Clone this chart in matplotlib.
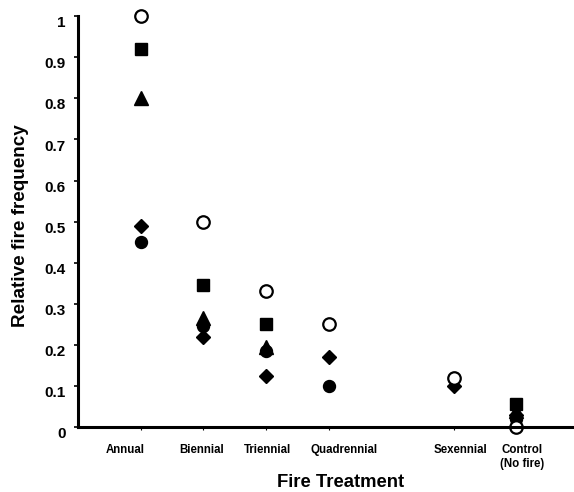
import matplotlib
matplotlib.use("Agg")
import matplotlib.pyplot as plt
import matplotlib.transforms as mtransforms
import numpy as np

plt.rcParams['font.family'] = ['Liberation Sans', 'DejaVu Sans']
plt.rcParams['font.weight'] = 'bold'

# --- DATA ---
treatments = ["Annual", "Biennial", "Triennial", "Quadrennial", "Sexennial", "Control\n(No fire)"]
positions = [1, 2, 3, 4, 6, 7]              # fire return interval (control drawn at 7)
label_pos = [0.75, 1.97, 3.03, 4.25, 6.1, 7.09]

nan = np.nan
open_circle = [1.00, 0.50, 0.33, 0.25, 0.12, 0.00]
square = [0.92, 0.345, 0.25, nan, nan, 0.055]
triangle = [0.80, 0.265, 0.195, nan, nan, 0.04]
diamond = [0.49, 0.22, 0.125, 0.17, 0.10, 0.03]
filled_circle = [0.45, 0.245, 0.185, 0.10, nan, 0.02]

yticks = [0, 0.1, 0.2, 0.3, 0.4, 0.5, 0.6, 0.7, 0.8, 0.9, 1]
ytick_labels = ["0", "0.1", "0.2", "0.3", "0.4", "0.5", "0.6", "0.7", "0.8", "0.9", "1"]

# --- FIGURE ---
fig = plt.figure(figsize=(5.74, 4.92), dpi=100)
ax = fig.add_axes([0.136, 0.132, 0.864, 0.835])

series = [
    (filled_circle, dict(marker='o', ms=8.6, mfc='black', mec='black')),
    (diamond, dict(marker='D', ms=6.8, mfc='black', mec='black')),
    (triangle, dict(marker='^', ms=10, mfc='black', mec='black')),
    (square, dict(marker='s', ms=8.4, mfc='black', mec='black')),
    (open_circle, dict(marker='o', ms=9, mfc='white', mec='black', mew=1.6)),
]
# markers sit just under the spines so the x axis line runs across the control circle
for vals, style in series:
    ax.plot(positions, vals, linestyle='none', clip_on=False, zorder=2.2, **style)

ax.set_xlim(0, 7.92)
ax.set_ylim(0, 1.0)

for side in ['top', 'right']:
    ax.spines[side].set_visible(False)
for side in ['left', 'bottom']:
    ax.spines[side].set_linewidth(2.2)

# y axis ticks, labels sit a little below their ticks
ax.set_yticks(yticks)
ax.set_yticklabels(ytick_labels, fontsize=11, fontweight='bold')
ax.tick_params(axis='y', length=3, width=1.2, pad=6)
offset = mtransforms.ScaledTranslation(0, -4 / 72, fig.dpi_scale_trans)
for lbl in ax.get_yticklabels():
    lbl.set_transform(lbl.get_transform() + offset)

# x axis: small ticks at treatments, labels as minor ticks
ax.set_xticks(positions)
ax.set_xticklabels([])
ax.tick_params(axis='x', which='major', length=2, width=0.8)
ax.set_xticks(label_pos, minor=True)
ax.set_xticklabels(treatments, minor=True, fontsize=8.3, fontweight='bold', va='top')
ax.tick_params(axis='x', which='minor', length=0, pad=12)

ax.text(0.53, -0.134, "Fire Treatment", transform=ax.transAxes, ha='center', va='center',
        fontsize=13.3, fontweight='bold')
ax.text(-0.116, 0.49, "Relative fire frequency", transform=ax.transAxes, ha='center',
        va='center', rotation=90, fontsize=13.6, fontweight='bold')

fig.savefig("out.png", dpi=100)
